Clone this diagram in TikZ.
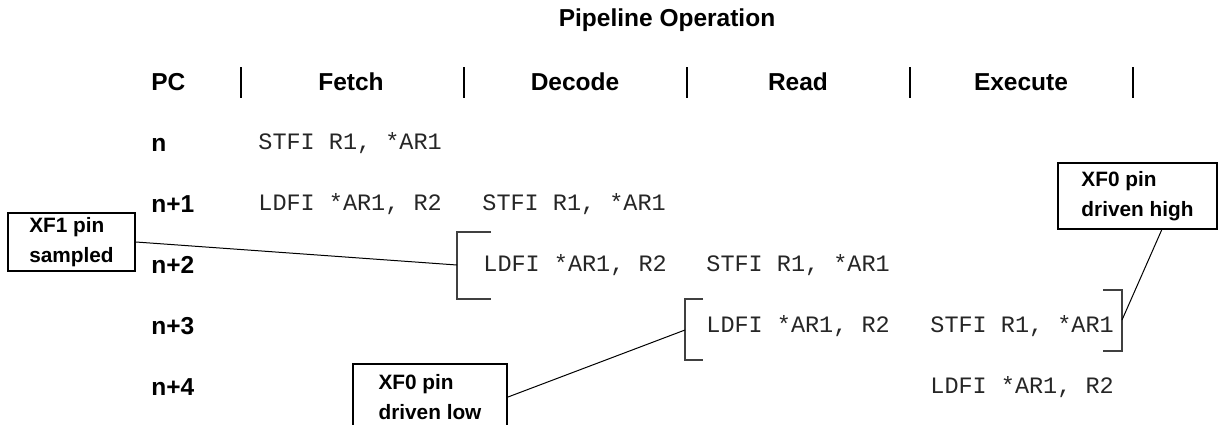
\documentclass[tikz,border=0pt]{standalone}
\usepackage{fontspec}
\setmainfont{Liberation Sans}
\setmonofont{Liberation Mono}
\usetikzlibrary{positioning,calc}
\tikzset{
  hdr/.style={font=\bfseries\fontsize{12.25}{14}\selectfont, inner sep=0pt, text height=8.8pt, text depth=0pt},
  rowlbl/.style={hdr, anchor=west},
  instr/.style={font=\ttfamily\fontsize{11.75}{14}\selectfont, anchor=west, inner sep=0pt,
    text height=6.7pt, text depth=0pt, text=black!85},
  callout/.style={draw, line width=1pt, align=left, inner sep=0pt,
    font=\bfseries\fontsize{10.4}{15}\selectfont},
  colsep/.style={line width=1pt},
  brk/.style={draw=black!75, line width=0.6pt},
  lead/.style={draw, line width=0.5pt},
}
\begin{document}
\begin{tikzpicture}[x=0.5pt,y=-0.5pt]
\useasboundingbox (0,0) rectangle (1222,424);

\node[hdr, anchor=base, text height=, text depth=] (title) at (667,26) {Pipeline Operation};

\node[rowlbl] (pc) at (151,82) {PC};
\node[hdr] (fetch) at (351,82) {Fetch};
\node[hdr] (decode) at (575,82) {Decode};
\node[hdr] (read) at (798,82) {Read};
\node[hdr] (exec) at (1021,82) {Execute};
\foreach \x in {241,464,687,910,1133}
  \draw[colsep] (\x,67) -- (\x,98);

\node[rowlbl] (r0) at (151,143) {n};
\node[rowlbl] (r1) at (151,204) {n+1};
\node[rowlbl] (r2) at (151,265) {n+2};
\node[rowlbl] (r3) at (151,326) {n+3};
\node[rowlbl] (r4) at (151,387) {n+4};

\node[instr] (st0) at (258,143) {STFI R1, *AR1};
\node[instr] (ld1) at (258,204) {LDFI *AR1, R2};
\node[instr] (st1) at (482,204) {STFI R1, *AR1};
\node[instr] (ld2) at (483,265) {LDFI *AR1, R2};
\node[instr] (st2) at (706,265) {STFI R1, *AR1};
\node[instr] (ld3) at (706,326) {LDFI *AR1, R2};
\node[instr] (st3) at (930,326) {STFI R1, *AR1};
\node[instr] (ld4) at (930,387) {LDFI *AR1, R2};

\draw[brk] (491,232) -| (457,299) -- (491,299);
\draw[brk] (703,299) -| (685,360) -- (703,360);
\draw[brk] (1103,290) -| (1122,351) -- (1103,351);
\coordinate (b1) at (457,265);
\coordinate (b2) at (685,330);
\coordinate (b3) at (1122,320);

\node[callout, minimum width=63.5pt, minimum height=29pt] (xf1) at (71.5,242) {XF1 pin\\sampled};
\node[callout, minimum width=79.5pt, minimum height=33pt] (xf0h) at (1137.5,196) {XF0 pin\\driven high};
\node[callout, minimum width=77pt, minimum height=33pt] (xf0l) at (430,397) {XF0 pin\\driven low};

\draw[lead] (xf1.east) -- (b1);
\draw[lead] (xf0l.east) -- (b2);
\draw[lead] ($(xf0h.south)!0.3!(xf0h.south east)$) -- (b3);
\end{tikzpicture}
\end{document}
